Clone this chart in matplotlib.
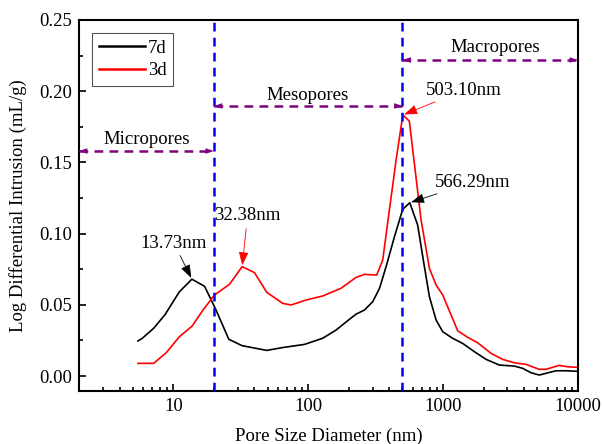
import matplotlib

matplotlib.use("Agg")
import matplotlib.pyplot as plt
from matplotlib.ticker import FixedLocator, LogLocator, MultipleLocator, NullFormatter

plt.rcParams["font.family"] = ["Liberation Serif", "DejaVu Serif"]

# 7d curve
d7_size = [5.47, 5.89, 7.15, 8.67, 11.07, 13.73, 17.06, 20.6, 25.8, 32.4, 49.3, 64.8,
           93.9, 128, 161, 202, 227, 261, 301, 338, 378, 436, 502, 566.29, 648, 727,
           792, 888, 994, 1178, 1397, 1706, 2083, 2614, 3375, 3890, 4487, 5167, 5793,
           6871, 8149, 9930]
d7_vals = [0.0246, 0.0265, 0.0335, 0.043, 0.059, 0.068, 0.063, 0.047, 0.0258, 0.0213,
           0.018, 0.020, 0.0222, 0.0265, 0.0323, 0.0398, 0.0435, 0.0463, 0.0522, 0.0616,
           0.0768, 0.0978, 0.117, 0.1217, 0.106, 0.0768, 0.0557, 0.0393, 0.0311, 0.0265,
           0.0229, 0.0171, 0.0117, 0.0077, 0.007, 0.0054, 0.0023, 0.0007, 0.0019, 0.0037,
           0.0037, 0.0033]

# 3d curve
d3_size = [5.47, 7.15, 8.87, 11.1, 13.8, 16.6, 20.2, 26.1, 32.38, 40.0, 49.3, 64.8,
           74.8, 96.6, 128, 175, 227, 261, 322, 357, 400, 449, 503.1, 562, 687, 792,
           888, 994, 1283, 1520, 1803, 2270, 2762, 3375, 4121, 5167, 5793, 7261, 8374,
           9930]
d3_vals = [0.0089, 0.0089, 0.0164, 0.0276, 0.0351, 0.0463, 0.0569, 0.0644, 0.0768,
           0.0726, 0.0588, 0.051, 0.0499, 0.0534, 0.0562, 0.0616, 0.0693, 0.0714, 0.0709,
           0.0815, 0.1166, 0.152, 0.1833, 0.179, 0.1096, 0.0756, 0.0639, 0.0569, 0.0318,
           0.0272, 0.0234, 0.0159, 0.0117, 0.0093, 0.0082, 0.0047, 0.0047, 0.0075, 0.0065,
           0.0061]

boundaries = [20, 500]
# (name, start, end, arrow y, text x, text y)
regions = [("Micropores", 2, 20, 0.158, 6.4, 0.166),
           ("Mesopores", 20, 500, 0.1896, 99, 0.197),
           ("Macropores", 500, 10000, 0.2219, 2450, 0.231)]

# (label, peak x, peak y, text x, text y, colour)
peaks = [("13.73nm", 13.73, 0.068, 10.1, 0.0934, "black"),
         ("32.38nm", 32.38, 0.0768, 35.5, 0.1124, "red"),
         ("503.10nm", 503.1, 0.1833, 1432, 0.2008, "red"),
         ("566.29nm", 566.29, 0.1217, 1656, 0.1362, "black")]

FS = 13.5
purple = "#800080"

fig = plt.figure(figsize=(6.03, 4.44), dpi=100)
ax = fig.add_axes([0.131, 0.1194, 0.8275, 0.8356])

ax.plot(d7_size, d7_vals, color="black", lw=1.2, label="7d")
ax.plot(d3_size, d3_vals, color="red", lw=1.2, label="3d")

for xb in boundaries:
    ax.axvline(xb, color="blue", lw=1.8, ls=(0, (3.5, 2.5)), zorder=3)

for name, x0, x1, y, tx, ty in regions:
    ax.plot([x0, x1], [y, y], color=purple, lw=1.8, ls=(0, (3.5, 2.5)), zorder=4)
    for tip, base in ((x0, x0 * 1.25), (x1, x1 / 1.25)):
        ax.annotate("", xy=(tip, y), xytext=(base, y),
                    arrowprops=dict(arrowstyle="-|>,head_length=0.6,head_width=0.2",
                                    color=purple, lw=0.01, shrinkA=0, shrinkB=0),
                    zorder=5)
    ax.text(tx, ty, name, ha="center", va="center", fontsize=FS)

for label, px, py, tx, ty, col in peaks:
    ax.annotate(label, xy=(px, py), xytext=(tx, ty), ha="center", va="center",
                fontsize=FS,
                arrowprops=dict(arrowstyle="-|>,head_length=0.6,head_width=0.22",
                                color=col, lw=0.6, shrinkA=1, shrinkB=1))

ax.set_xscale("log")
ax.set_xlim(2, 10000)
ax.set_ylim(-0.0105, 0.25)
ax.xaxis.set_major_locator(FixedLocator([10, 100, 1000, 10000]))
ax.xaxis.set_major_formatter(plt.FuncFormatter(lambda v, p: f"{v:.0f}"))
ax.xaxis.set_minor_locator(LogLocator(base=10, subs=range(2, 10)))
ax.xaxis.set_minor_formatter(NullFormatter())
ax.yaxis.set_major_locator(MultipleLocator(0.05))
ax.yaxis.set_minor_locator(MultipleLocator(0.025))
ax.yaxis.set_major_formatter(plt.FuncFormatter(lambda v, p: f"{v:.2f}"))

ax.tick_params(which="both", direction="in", top=False, right=False,
               labelsize=FS, width=1.2)
ax.tick_params(which="major", length=5, pad=5)
ax.tick_params(which="minor", length=3)
for sp in ax.spines.values():
    sp.set_linewidth(1.5)

ax.set_xlabel("Pore Size Diameter (nm)", fontsize=FS, labelpad=9)
ax.set_ylabel("Log Differential Intrusion (mL/g)", fontsize=FS, labelpad=9)

leg = ax.legend(loc="upper left", bbox_to_anchor=(0.026, 0.965), borderaxespad=0,
                fontsize=FS, fancybox=False, framealpha=1, edgecolor="#555555",
                handlelength=2.5, borderpad=0.35, labelspacing=0.3,
                handletextpad=0.15)
leg.get_frame().set_linewidth(0.8)
for line in leg.get_lines():
    line.set_linewidth(1.8)

fig.savefig("out.png", dpi=100)
